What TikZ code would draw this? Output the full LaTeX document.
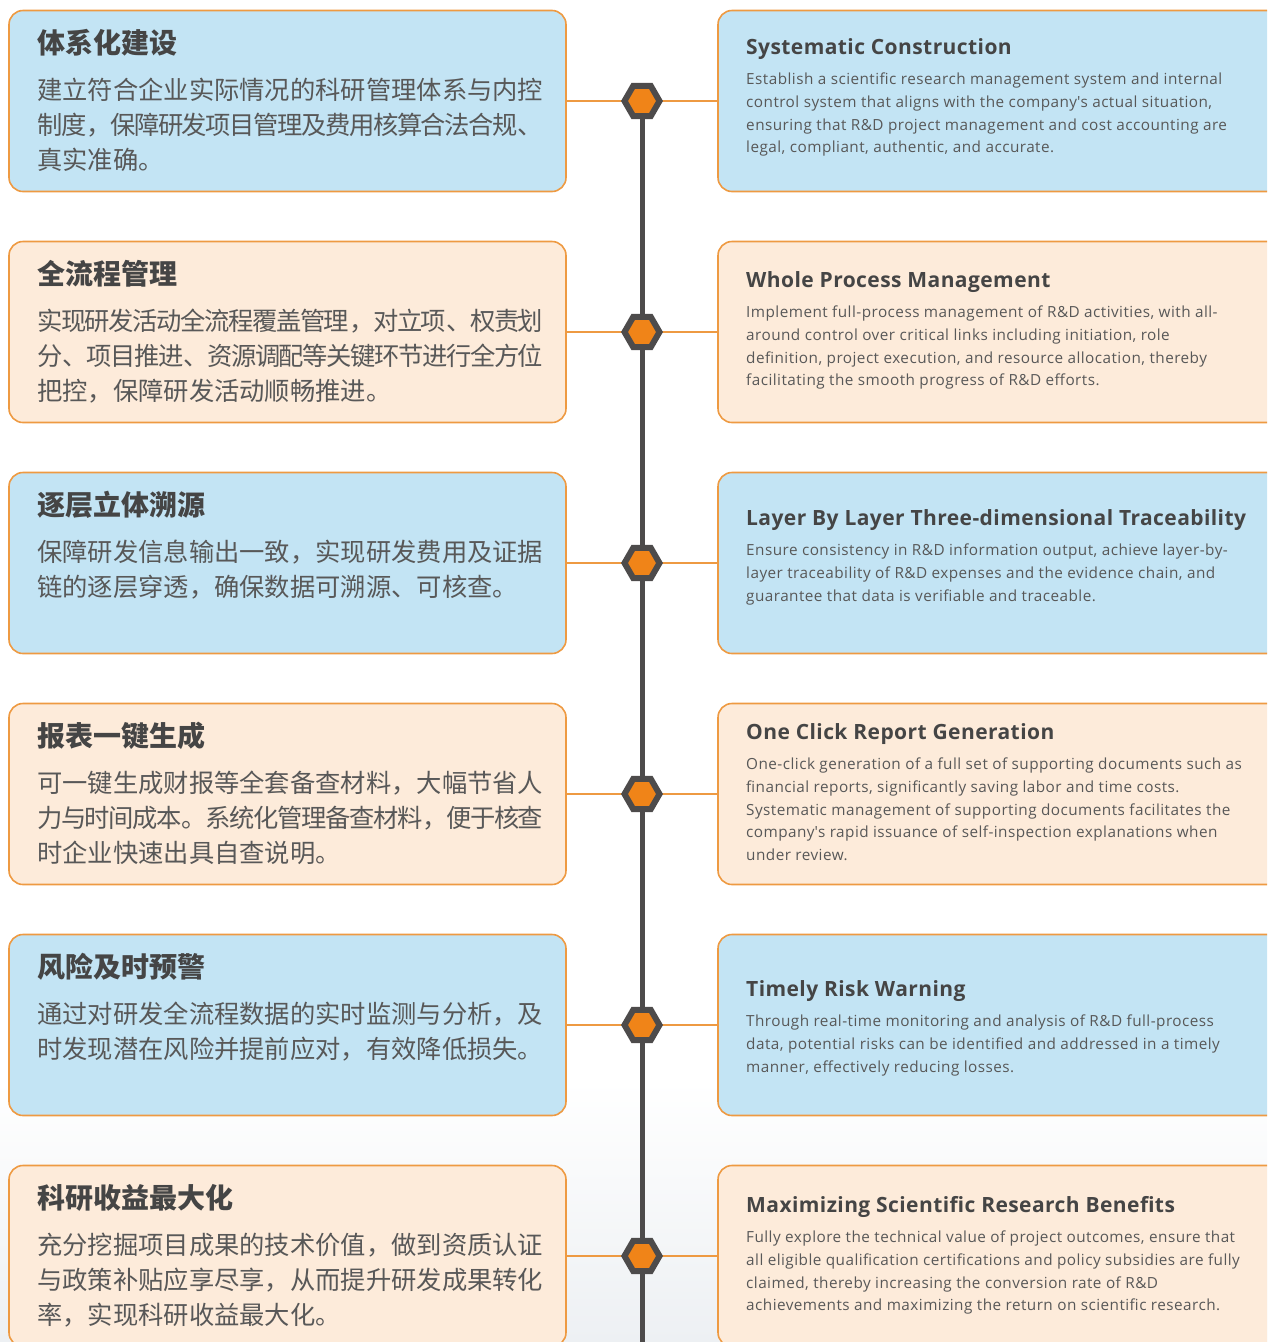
\documentclass[tikz,border=0pt]{standalone}
\usepackage{fontspec}
\setmainfont{Open Sans}
\newfontfamily\cjk{Noto Sans CJK SC}
\newfontfamily\entitle{Open Sans}[LetterSpace=2]
\newfontfamily\enbody{Open Sans}[LetterSpace=3]
\newcommand{\cjkjust}{\XeTeXlinebreaklocale "zh"\relax\XeTeXlinebreakskip=0pt plus 6pt minus 2pt\relax\tolerance=9999\relax}
\usetikzlibrary{shapes.geometric}
\definecolor{boxblue}{HTML}{C3E4F4}
\definecolor{boxpeach}{HTML}{FDEBDA}
\definecolor{boxline}{HTML}{EE9A42}
\definecolor{hexfill}{HTML}{F08418}
\definecolor{hexline}{HTML}{4D4B4B}
\definecolor{txttitle}{HTML}{454545}
\definecolor{txtbody}{HTML}{585858}
\definecolor{bgfade}{HTML}{EDF0F3}
\tikzset{
  card/.style={draw=boxline, line width=1.6pt, rounded corners=14pt, minimum height=181pt, inner sep=0pt},
  lcard/.style={card, minimum width=557pt},
  rcard/.style={card, minimum width=572pt},
  link/.style={draw=boxline, line width=2pt},
  spine/.style={draw=hexline, line width=5pt},
  hexnode/.style={regular polygon, regular polygon sides=6, minimum size=35pt, inner sep=0pt, fill=hexfill, draw=hexline, line width=6pt},
  ltitle/.style={anchor=base west, inner sep=0pt, text=txttitle, font={\cjk\bfseries\fontsize{28}{30}\selectfont}},
  lbody/.style={anchor=base west, inner sep=0pt, text=txtbody, text width=506pt, align=justify,
    font={\cjk\fontsize{25.3}{35.4}\selectfont\cjkjust}},
  rtitle/.style={anchor=base west, inner sep=0pt, text=txttitle, font={\entitle\bfseries\fontsize{21}{24}\selectfont}},
  rbody/.style={anchor=base west, inner sep=0pt, text=txtbody, font={\enbody\fontsize{15.3}{17}\selectfont}},
}
% left card texts: #1 id, #2 box top, #3 title, #4 body
\newcommand{\mkleft}[4]{%
  \node[ltitle] (#1t) at (37,{#2+43}) {#3};
  \node[lbody] (#1b) at (37,{#2+88.6}) {#4};
}
% right card texts: #1 id, #2 title centre y, #3 title, #4 lines
\newcommand{\mkright}[4]{%
  \node[rtitle] (#1t) at (746,{#2+6.5}) {#3};
  \foreach \ln [count=\k] in {#4} {\node[rbody] (#1b\k) at (746,{#2+32+4.6+22.7*(\k-1)}) {\ln};}
}
\begin{document}
\begin{tikzpicture}[x=1pt,y=-1pt]
\useasboundingbox (0,0) rectangle (1267,1342);
\clip (0,0) rectangle (1267,1342);
\fill[top color=white, bottom color=bgfade] (0,1080) rectangle (1267,1342);
% cards
\foreach \i/\c in {1/boxblue,2/boxpeach,3/boxblue,4/boxpeach,5/boxblue,6/boxpeach} {
  \node[lcard, fill=\c] (L\i) at (287.5,{101+231*(\i-1)}) {};
  \node[rcard, fill=\c] (R\i) at (1004,{101+231*(\i-1)}) {};
  \coordinate (c\i) at (642,{101+231*(\i-1)});
}
\coordinate (cend) at (642,1350);
% connectors
\foreach \i in {1,...,6} {\draw[link] (L\i.east) -- (R\i.west);}
\draw[spine] (c1) -- (cend);
\foreach \i in {1,...,6} {\node[hexnode] (h\i) at (c\i) {};}
% left texts
\mkleft{a}{10.5}{体系化建设}{建立符合企业实际情况的科研管理体系与内控\linebreak 制度，保障研发项目管理及费用核算合法合规、\linebreak 真实准确。}
\mkleft{b}{241.5}{全流程管理}{实现研发活动全流程覆盖管理，对立项、权责划\linebreak 分、项目推进、资源调配等关键环节进行全方位\linebreak 把控，保障研发活动顺畅推进。}
\mkleft{c}{472.5}{逐层立体溯源}{保障研发信息输出一致，实现研发费用及证据\linebreak 链的逐层穿透，确保数据可溯源、可核查。}
\mkleft{d}{703.5}{报表一键生成}{可一键生成财报等全套备查材料，大幅节省人\linebreak 力与时间成本。系统化管理备查材料，便于核查\linebreak 时企业快速出具自查说明。}
\mkleft{e}{934.5}{风险及时预警}{通过对研发全流程数据的实时监测与分析，及\linebreak 时发现潜在风险并提前应对，有效降低损失。}
\mkleft{f}{1165.5}{科研收益最大化}{充分挖掘项目成果的技术价值，做到资质认证\linebreak 与政策补贴应享尽享，从而提升研发成果转化\linebreak 率，实现科研收益最大化。}
% right texts
\mkright{p}{48}{Systematic Construction}{{Establish a scientific research management system and internal},{control system that aligns with the company\textquotesingle s actual situation,},{ensuring that R\&D project management and cost accounting are},{legal, compliant, authentic, and accurate.}}
\mkright{q}{281}{Whole Process Management}{{Implement full-process management of R\&D activities, with all-},{around control over critical links including initiation, role},{definition, project execution, and resource allocation, thereby},{facilitating the smooth progress of R\&D efforts.}}
\mkright{r}{519}{Layer By Layer Three-dimensional Traceability}{{Ensure consistency in R\&D information output, achieve layer-by-},{layer traceability of R\&D expenses and the evidence chain, and},{guarantee that data is verifiable and traceable.}}
\mkright{s}{733}{One Click Report Generation}{{One-click generation of a full set of supporting documents such as},{financial reports, significantly saving labor and time costs.},{Systematic management of supporting documents facilitates the},{company\textquotesingle s rapid issuance of self-inspection explanations when},{under review.}}
\mkright{t}{990}{Timely Risk Warning}{{Through real-time monitoring and analysis of R\&D full-process},{data, potential risks can be identified and addressed in a timely},{manner, effectively reducing losses.}}
\mkright{u}{1206}{Maximizing Scientific Research Benefits}{{Fully explore the technical value of project outcomes, ensure that},{all eligible qualification certifications and policy subsidies are fully},{claimed, thereby increasing the conversion rate of R\&D},{achievements and maximizing the return on scientific research.}}
\end{tikzpicture}
\end{document}
